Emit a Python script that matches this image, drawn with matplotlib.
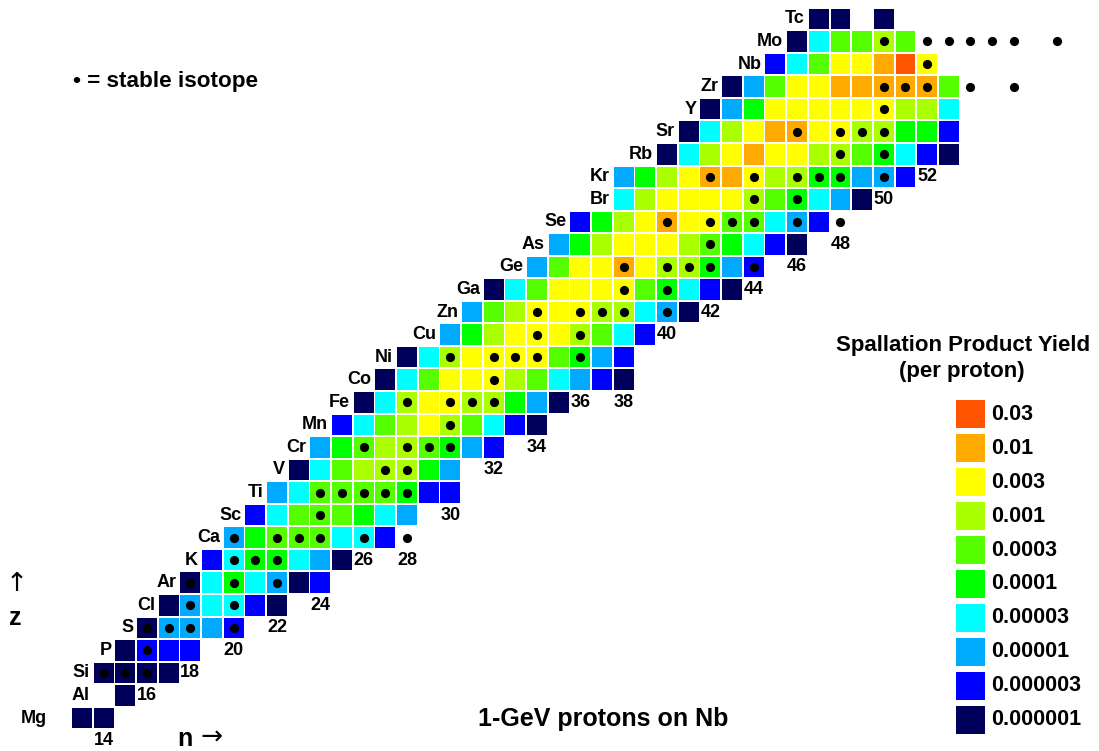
import matplotlib.pyplot as plt
from matplotlib.patches import Rectangle

# yield classes (legend, top to bottom)
levels = ['0.03', '0.01', '0.003', '0.001', '0.0003', '0.0001',
          '0.00003', '0.00001', '0.000003', '0.000001']
level_codes = ['R', 'O', 'Y', 'L', 'G', 'E', 'C', 'S', 'B', 'N']
level_colors = ['#ff5500', '#ffaa00', '#ffff00', '#aaff00', '#55ff00', '#00ff00',
                '#00ffff', '#00aaff', '#0000ff', '#00005a']

# one entry per element row, Z = 12 .. 43
elements = ['Mg', 'Al', 'Si', 'P', 'S', 'Cl', 'Ar', 'K', 'Ca', 'Sc', 'Ti', 'V', 'Cr',
            'Mn', 'Fe', 'Co', 'Ni', 'Cu', 'Zn', 'Ga', 'Ge', 'As', 'Se', 'Br', 'Kr',
            'Rb', 'Sr', 'Y', 'Zr', 'Nb', 'Mo', 'Tc']
z_values = list(range(12, 44))
first_n = [13, 15, 14, 15, 16, 17, 18, 19, 20, 21, 22, 23, 24, 25, 26, 27, 28, 30,
           31, 32, 34, 35, 36, 38, 38, 40, 41, 42, 43, 45, 46, 47]
label_n = [12, 14, 14, 15, 16, 17, 18, 19, 20, 21, 22, 23, 24, 25, 26, 27, 28, 30,
           31, 32, 34, 35, 36, 38, 38, 40, 41, 42, 43, 45, 46, 47]
# yield class of each isotope, starting at first_n ('.' = no cell)
yield_codes = ['NN', 'N', 'NNNN', 'NBBB', 'NSSSB', 'NSCCBN', 'NCECSNB', 'BCEECSN',
               'SEGGGCCB', 'BCGGGECS', 'SCGGGGEBB', 'NCGLLLES', 'SEGLLGESB',
               'BCGLYLGCBN', 'NCLYYLLESN', 'NCGYYYLGCSBN', 'NCLYYYYGESB',
               'SELYYYLGCB', 'SGLYYYLLCSN', 'NCGYYYYGECBN', 'SGYYOYLLESB',
               'SELYYYLGECBN', 'BELYOYYGGCSB', 'CLYYYYLGECSN', 'SELYOOYLLEESSB',
               'NCLYOYYLLGECBN', 'NCLYOOYYLLEEB', 'NSEYYYYYYLLC', 'NSGYYOOOOOG',
               'BCGYYORY', 'NCGGLG', 'NN.N']
stable_n = [[], [], [14, 15, 16], [16], [16, 17, 18, 20], [18, 20], [18, 20, 22],
            [20, 21, 22], [20, 22, 23, 24, 26, 28], [24], [24, 25, 26, 27, 28],
            [27, 28], [26, 28, 29, 30], [30], [28, 30, 31, 32], [32],
            [30, 32, 33, 34, 36], [34, 36], [34, 36, 37, 38, 40], [38, 40],
            [38, 40, 41, 42, 44], [42], [40, 42, 43, 44, 46, 48], [44, 46],
            [42, 44, 46, 47, 48, 50], [48, 50], [46, 48, 49, 50], [50],
            [50, 51, 52, 54, 56], [52], [50, 52, 53, 54, 55, 56, 58], []]

# neutron number labels and the row they sit in
magic_n = [14, 16, 18, 20, 22, 24, 26, 28, 30, 32, 34, 36, 38, 40, 42, 44, 46, 48, 50, 52]
magic_z = [11, 13, 14, 15, 16, 17, 19, 19, 21, 23, 24, 26, 26, 29, 30, 31, 32, 33, 35, 36]

plt.rcParams['font.family'] = ['Liberation Sans', 'DejaVu Sans']

fig = plt.figure(figsize=(10.99, 7.51), dpi=100)
ax = fig.add_axes([0, 0, 1, 1])
ax.set_xlim(9.216, 59.93)
ax.set_ylim(10.537, 43.84)
ax.axis('off')

color_of = dict(zip(level_codes, level_colors))
cw, ch = 0.92, 0.91

for el, z, n0, ln, codes, stab in zip(elements, z_values, first_n, label_n,
                                      yield_codes, stable_n):
    for i, c in enumerate(codes):
        if c == '.':
            continue
        ax.add_patch(Rectangle((n0 + i - cw / 2, z - ch / 2), cw, ch,
                               facecolor=color_of[c], edgecolor='none'))
    if stab:
        ax.plot(stab, [z] * len(stab), 'o', color='black', ms=6.6, mew=0)
    ax.text(ln - 0.64, z, el, ha='right', va='center', fontsize=13,
            fontweight='bold')

for n, z in zip(magic_n, magic_z):
    ax.text(n, z, str(n), ha='center', va='center', fontsize=13, fontweight='bold')

# legend
lax = fig.add_axes([956 / 1099, 17 / 751, 143 / 1099, 334 / 751])
lax.set_xlim(0, 143)
lax.set_ylim(9.4118, -0.4118)
lax.axis('off')
for i, (lab, col) in enumerate(zip(levels, level_colors)):
    lax.add_patch(Rectangle((0, i - 0.4118), 29, 0.8235, facecolor=col, edgecolor='none'))
    lax.text(35, i, lab, ha='left', va='center', fontsize=15.5, fontweight='bold')

fig.text(0.8763, 0.5406, 'Spallation Product Yield', ha='center', va='center',
         fontsize=16, fontweight='bold')
fig.text(0.8753, 0.5047, '(per proton)', ha='center', va='center',
         fontsize=16, fontweight='bold')

fig.text(0.066, 0.892, '\u2022 = stable isotope', ha='left', va='center',
         fontsize=16.2, fontweight='bold')
fig.text(0.5487, 0.0426, '1-GeV protons on Nb', ha='center', va='center',
         fontsize=18, fontweight='bold')

# axis hints
fig.text(0.015, 0.222, '\u2191', ha='center', va='center', fontsize=19,
         family='DejaVu Sans')
fig.text(0.0137, 0.177, 'z', ha='center', va='center', fontsize=18, fontweight='bold')
fig.text(0.161, 0.016, 'n', ha='left', va='center', fontsize=18, fontweight='bold')
fig.text(0.182, 0.018, '\u2192', ha='left', va='center', fontsize=19,
         family='DejaVu Sans')

fig.savefig('out.png', dpi=100)
